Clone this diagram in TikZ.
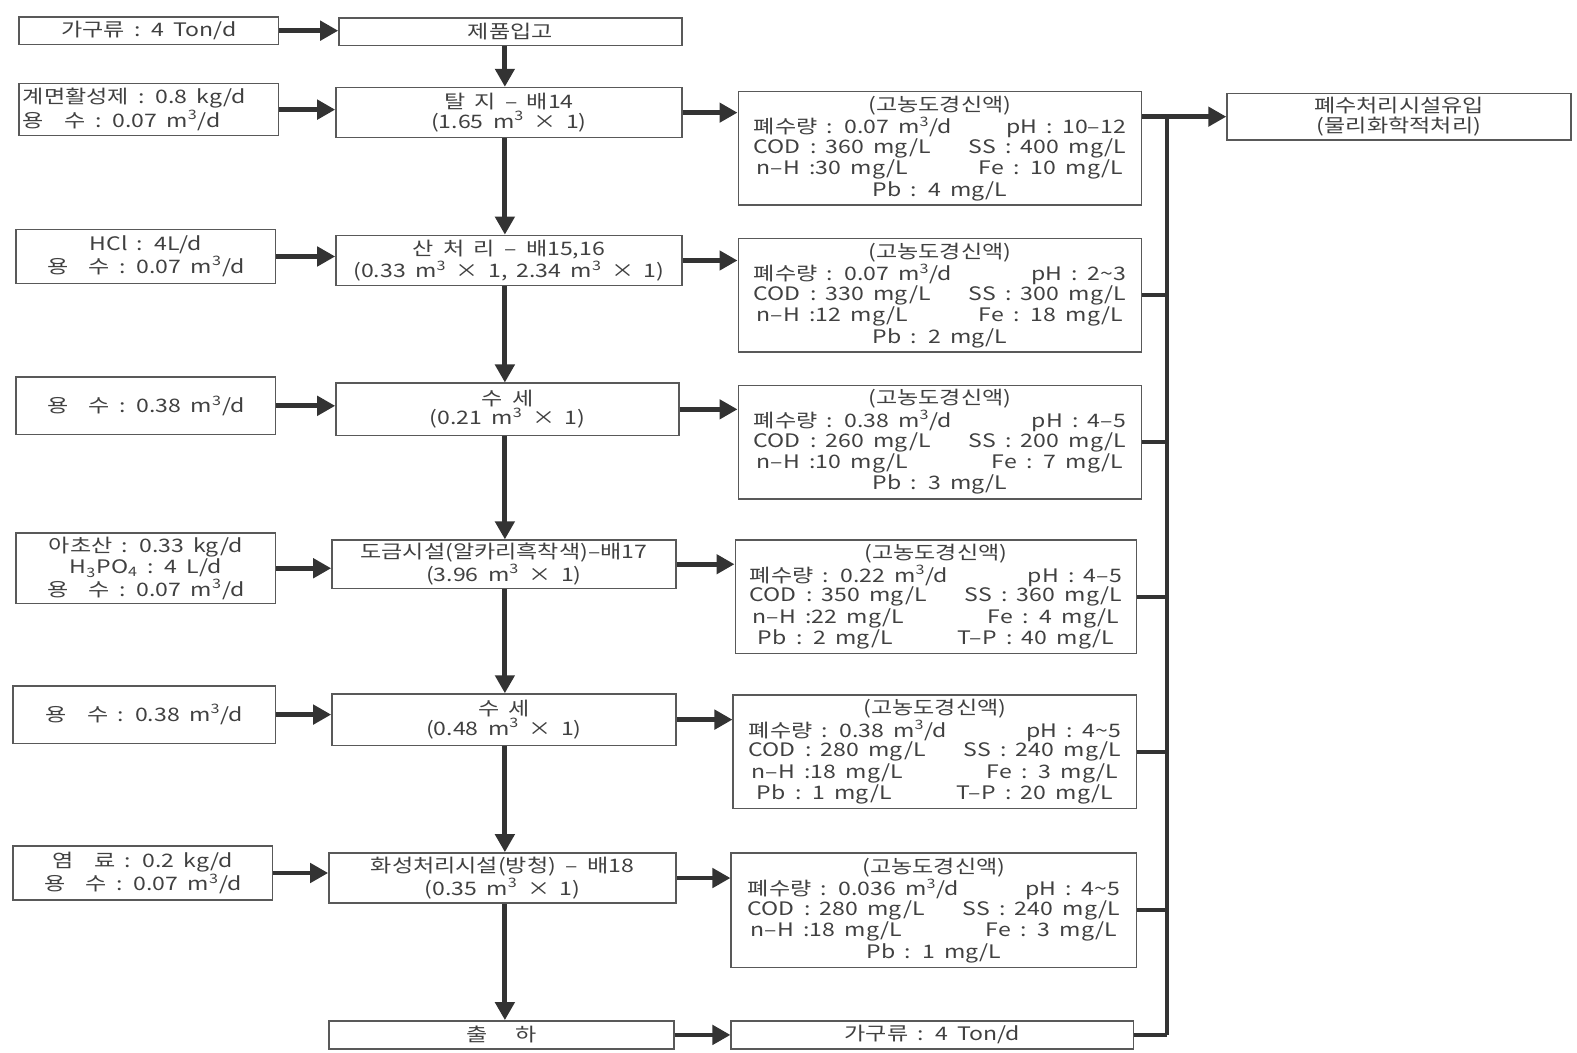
\documentclass[tikz,border=0pt]{standalone}
\usepackage{fontspec}
\setmainfont[FakeStretch=1.24, WordSpace=1.8]{Noto Sans CJK KR}
\usetikzlibrary{arrows.meta,calc}
\definecolor{boxc}{gray}{0.35}
\definecolor{arrc}{gray}{0.2}
\definecolor{txtc}{gray}{0.25}
\newlength\wl
\setlength\wl{186pt}
\newcommand\lr[3][\wl]{\makebox[#1]{#2\hfill #3}}
\newcommand\mcube{m\textsuperscript{3}}
\newcommand\yong{용\hspace{1.1em}수}
\newcommand\bx[6]{\node[box, minimum width={(#4-#2)*0.5029pt}, minimum height={(#5-#3)*0.5029pt}] (#1) at ({(#2+#4)/2},{(#3+#5)/2}) {#6};}
\begin{document}
\begin{tikzpicture}[x=0.5029pt,y=-0.5029pt,
  box/.style={draw=boxc, line width=0.7pt, rectangle, inner sep=0pt, align=center,
    text=txtc, font=\fontsize{9.3}{9.7}\selectfont},
  flow/.style={draw=arrc, line width=2.4pt, -{Triangle[length=9pt,width=9.5pt]}},
  bus/.style={draw=arrc, line width=2pt}]
\useasboundingbox (0,0) rectangle (1568,1046);
% left column
\bx{L0}{19}{17}{277}{44}{가구류 : 4 Ton/d}
\node[box, minimum width={258*0.5029pt}, minimum height={52*0.5029pt}, align=left] (L1) at (148,109)
  {\makebox[126pt][l]{계면활성제 : 0.8 kg/d}\\\makebox[126pt][l]{\yong\ : 0.07 \mcube/d}};
\bx{L2}{16}{228}{274}{282}{HCl : 4L/d\\\yong\ : 0.07 \mcube/d}
\bx{L3}{16}{375}{274}{432}{\yong\ : 0.38 \mcube/d}
\bx{L4}{16}{530}{274}{600}{아초산 : 0.33 kg/d\\H\textsubscript{3}PO\textsubscript{4} : 4 L/d\\\yong\ : 0.07 \mcube/d}
\bx{L5}{13}{682}{274}{739}{\yong\ : 0.38 \mcube/d}
\bx{L6}{13}{841}{271}{895}{염\hspace{1.1em}료 : 0.2 kg/d\\\yong\ : 0.07 \mcube/d}
% middle column
\bx{M0}{337}{18}{678}{45}{제품입고}
\bx{M1}{334}{87}{678}{137}{탈 지 – 배14\\(1.65 \mcube{} × 1)}
\bx{M2}{334}{234}{678}{284}{산 처 리 – 배15,16\\(0.33 \mcube{} × 1, 2.34 \mcube{} × 1)}
\bx{M3}{334}{381}{675}{433}{수 세\\(0.21 \mcube{} × 1)}
\bx{M4}{330}{537}{672}{585}{도금시설(알카리흑착색)–배17\\(3.96 \mcube{} × 1)}
\bx{M5}{330}{690}{672}{741}{수 세\\(0.48 \mcube{} × 1)}
\bx{M6}{327}{848}{672}{898}{화성처리시설(방청) – 배18\\(0.35 \mcube{} × 1)}
\bx{M7}{327}{1015}{670}{1043}{출\hspace{1.5em}하}
% right column
\bx{R1}{734}{91}{1135}{204}{(고농도경신액)\\\lr{폐수량 : 0.07 \mcube/d}{pH : 10–12}\\\lr{COD : 360 mg/L}{SS : 400 mg/L}\\\lr[183pt]{n–H :30 mg/L}{Fe : 10 mg/L}\\Pb : 4 mg/L}
\bx{R2}{734}{237}{1135}{350}{(고농도경신액)\\\lr{폐수량 : 0.07 \mcube/d}{pH : 2\textasciitilde3}\\\lr{COD : 330 mg/L}{SS : 300 mg/L}\\\lr[183pt]{n–H :12 mg/L}{Fe : 18 mg/L}\\Pb : 2 mg/L}
\bx{R3}{734}{383}{1135}{496}{(고농도경신액)\\\lr{폐수량 : 0.38 \mcube/d}{pH : 4–5}\\\lr{COD : 260 mg/L}{SS : 200 mg/L}\\\lr[183pt]{n–H :10 mg/L}{Fe : 7 mg/L}\\Pb : 3 mg/L}
\bx{R4}{731}{537}{1130}{650}{(고농도경신액)\\\lr{폐수량 : 0.22 \mcube/d}{pH : 4–5}\\\lr{COD : 350 mg/L}{SS : 360 mg/L}\\\lr[183pt]{n–H :22 mg/L}{Fe : 4 mg/L}\\\lr[178pt]{Pb : 2 mg/L}{T–P : 40 mg/L}}
\bx{R5}{729}{691}{1130}{804}{(고농도경신액)\\\lr{폐수량 : 0.38 \mcube/d}{pH : 4\textasciitilde5}\\\lr{COD : 280 mg/L}{SS : 240 mg/L}\\\lr[183pt]{n–H :18 mg/L}{Fe : 3 mg/L}\\\lr[178pt]{Pb : 1 mg/L}{T–P : 20 mg/L}}
\bx{R6}{727}{848}{1130}{962}{(고농도경신액)\\\lr{폐수량 : 0.036 \mcube/d}{pH : 4\textasciitilde5}\\\lr{COD : 280 mg/L}{SS : 240 mg/L}\\\lr[183pt]{n–H :18 mg/L}{Fe : 3 mg/L}\\Pb : 1 mg/L}
\bx{R7}{727}{1015}{1127}{1043}{가구류 : 4 Ton/d}
\bx{T}{1220}{93}{1562}{139}{폐수처리시설유입\\(물리화학적처리)}
% flow arrows
\coordinate (ax) at (502,0);
\foreach \a/\b in {M0/M1,M1/M2,M2/M3,M3/M4,M4/M5,M5/M6,M6/M7}
  \draw[flow] (\a.south -| ax) -- (\b.north -| ax);
\foreach \i in {0,...,6}
  \draw[flow] (L\i.east) -- (L\i.east -| M\i.west);
\foreach \i in {1,...,7}
  \draw[flow] (M\i.east) -- (M\i.east -| R\i.west);
% collector
\coordinate (busT) at (1160,117);
\coordinate (busB) at (1160,1029);
\draw[bus] (busT) -- (busB);
\draw[flow] (R1.east |- T.west) -- (T.west);
\foreach \i in {2,...,6}
  \draw[bus] (R\i.east) -- (R\i.east -| busT);
\draw[bus] (R7.east) -- (busB);
\end{tikzpicture}
\end{document}
